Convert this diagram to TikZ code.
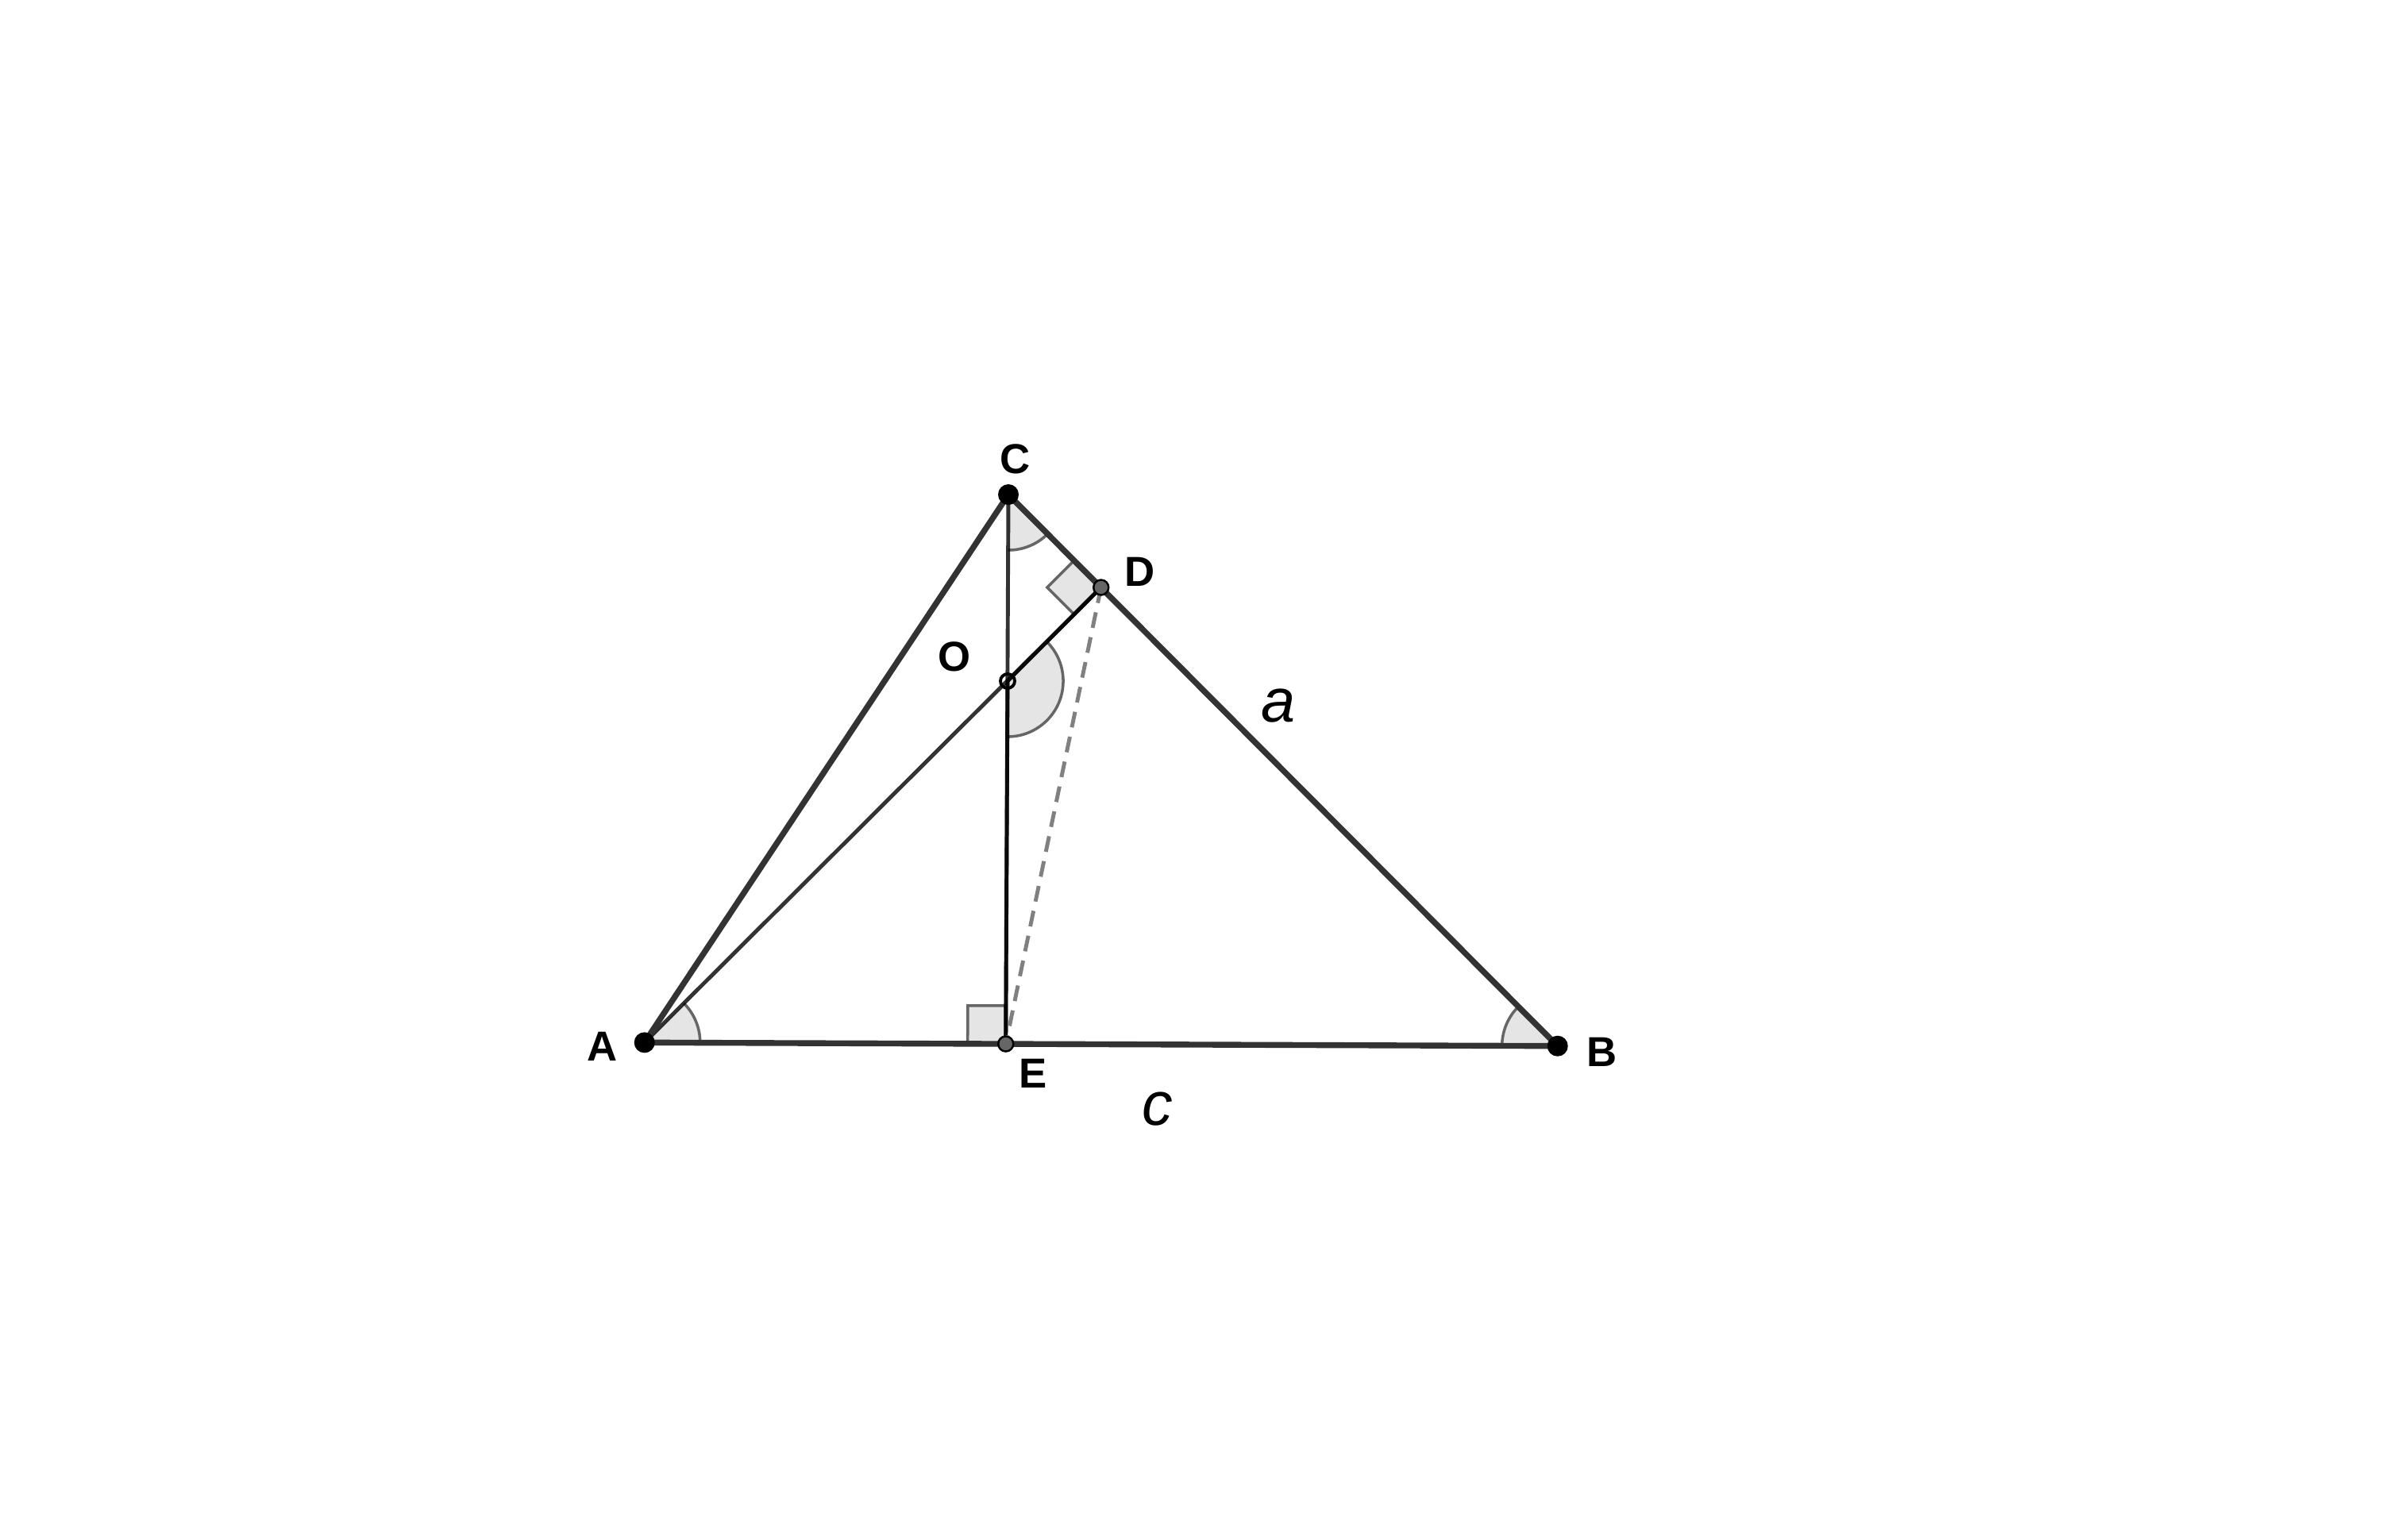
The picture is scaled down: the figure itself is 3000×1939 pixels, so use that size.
\documentclass[tikz,border=0pt]{standalone}
\usepackage{fontspec}
\newfontfamily\labfont{Liberation Sans}
\usetikzlibrary{calc,angles}
\definecolor{side}{HTML}{333333}
\definecolor{markfill}{HTML}{E5E5E5}
\definecolor{markline}{HTML}{666666}
\definecolor{dashgray}{HTML}{808080}
\definecolor{ptgray}{HTML}{666666}
\tikzset{
  sideline/.style={draw=side,line width=2.1pt},
  innerline/.style={draw=black,opacity=0.8,line width=1.4pt},
  anglemark/.style={draw=markline,fill=markfill,line width=1pt,angle radius=0.7cm},
  rightmark/.style={draw=markline,fill=markfill,line width=1pt},
  bigpt/.style={circle,fill=black,inner sep=0pt,minimum size=0.26cm},
  graypt/.style={circle,fill=ptgray,draw=black,line width=0.7pt,inner sep=0pt,minimum size=0.19cm},
  openpt/.style={circle,draw=black,line width=1.1pt,inner sep=0pt,minimum size=0.18cm},
  ptlabel/.style={font=\labfont\bfseries\fontsize{15}{17}\selectfont,inner sep=0pt},
  sidelabel/.style={font=\labfont\itshape\fontsize{22}{24}\selectfont,inner sep=0pt}
}
\begin{document}
\begin{tikzpicture}[x=0.01cm,y=-0.01cm]
\useasboundingbox (0,0) rectangle (3000,1939);
\coordinate (A) at (811.7,1313.3);
\coordinate (B) at (1961.7,1317.7);
\coordinate (C) at (1270,623);
\coordinate (D) at (1386.7,740);
\coordinate (O) at (1269,858);
\coordinate (E) at (1266.7,1315);
% angle marks
\pic[anglemark] {angle=B--A--D};
\pic[anglemark] {angle=C--B--A};
\pic[anglemark] {angle=O--C--B};
\pic[anglemark] {angle=E--O--D};
% right angle marks
\coordinate (d1) at ($(D)!0.48cm!(C)$);
\coordinate (d2) at ($(D)!0.48cm!(O)$);
\draw[rightmark] (D) -- (d1) -- ($(d1)+(d2)-(D)$) -- (d2) -- cycle;
\coordinate (e1) at ($(E)!0.48cm!(C)$);
\coordinate (e2) at ($(E)!0.48cm!(A)$);
\draw[rightmark] (E) -- (e1) -- ($(e1)+(e2)-(E)$) -- (e2) -- cycle;
% lines
\draw[innerline] (C) -- (E);
\draw[innerline] (A) -- (D);
\draw[innerline] (O) -- (E);
\draw[innerline] (O) -- (D);
\draw[dashgray,line width=1.4pt,dash pattern=on 0.2cm off 0.12cm] (D) -- (E);
\draw[sideline] (A) -- (B);
\draw[sideline] (B) -- (C);
\draw[sideline] (C) -- (A);
% points
\node[bigpt] (pA) at (A) {};
\node[bigpt] (pB) at (B) {};
\node[bigpt] (pC) at (C) {};
\node[graypt] (pD) at (D) {};
\node[graypt] (pE) at (E) {};
\node[openpt] (pO) at (O) {};
% labels
\node[ptlabel] (lC) at (1279,578) {C};
\node[ptlabel] (lD) at (1436,720) {D};
\node[ptlabel] (lO) at (1202,827) {O};
\node[ptlabel] (lA) at (759,1318) {A};
\node[ptlabel] (lE) at (1301,1352) {E};
\node[ptlabel] (lB) at (2018,1325) {B};
\node[sidelabel] (la) at (1610,889) {a};
\node[sidelabel] (lc) at (1458,1397) {c};
\end{tikzpicture}
\end{document}
